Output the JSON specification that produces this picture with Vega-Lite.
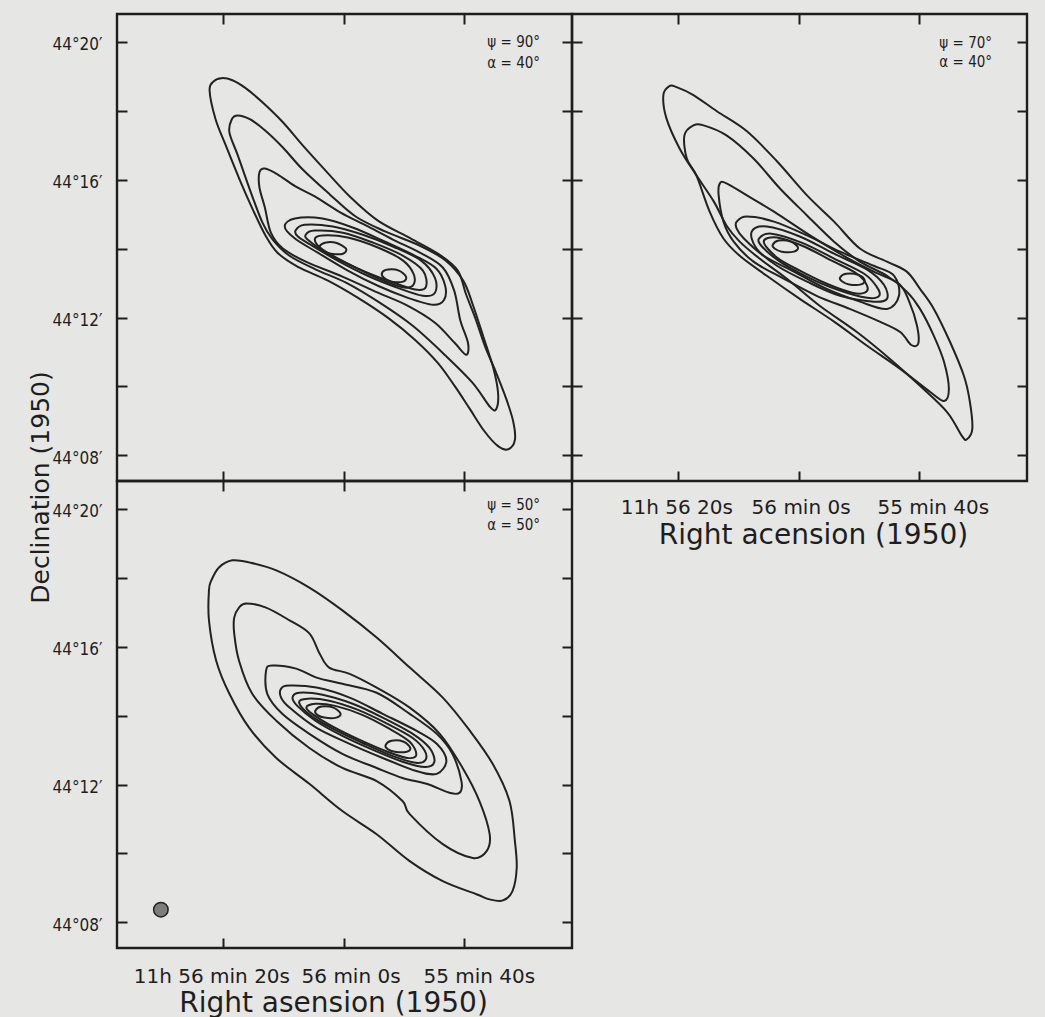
{
  "$schema": "https://vega.github.io/schema/vega-lite/v6.json",
  "background": "#e6e6e4",
  "padding": {"left": 26, "top": 11, "right": 18, "bottom": 3},
  "columns": 2,
  "spacing": 0,
  "bounds": "flush",
  "config": {
    "view": {"stroke": "#1e1e1e", "strokeWidth": 2.4},
    "axis": {"domain": false, "grid": false, "tickSize": -10, "tickWidth": 2, "tickColor": "#1e1e1e", "labelColor": "#1e1e1e", "titleColor": "#1e1e1e", "labelOverlap": false, "labelFlush": false, "labelBound": false}
  },
  "datasets": {
    "TL": [
      {"c":1,"ra":82.3,"dec":18.59},{"c":1,"ra":81.6,"dec":18.85},{"c":1,"ra":80.3,"dec":18.94},{"c":1,"ra":78.5,"dec":18.88},{"c":1,"ra":76.3,"dec":18.65},{"c":1,"ra":73.5,"dec":18.24},{"c":1,"ra":70.1,"dec":17.66},{"c":1,"ra":66.8,"dec":16.99},{"c":1,"ra":63.0,"dec":16.26},{"c":1,"ra":58.8,"dec":15.48},{"c":1,"ra":54.3,"dec":14.81},{"c":1,"ra":48.8,"dec":14.29},{"c":1,"ra":44.0,"dec":13.82},{"c":1,"ra":41.0,"dec":13.36},{"c":1,"ra":39.6,"dec":12.66},{"c":1,"ra":38.1,"dec":11.99},{"c":1,"ra":36.5,"dec":11.18},{"c":1,"ra":34.6,"dec":10.39},{"c":1,"ra":33.0,"dec":9.67},{"c":1,"ra":31.8,"dec":9.0},{"c":1,"ra":31.5,"dec":8.45},{"c":1,"ra":32.6,"dec":8.18},{"c":1,"ra":34.3,"dec":8.27},{"c":1,"ra":36.6,"dec":8.71},{"c":1,"ra":39.0,"dec":9.35},{"c":1,"ra":41.5,"dec":10.01},{"c":1,"ra":44.3,"dec":10.68},{"c":1,"ra":48.1,"dec":11.35},{"c":1,"ra":52.6,"dec":11.99},{"c":1,"ra":57.6,"dec":12.57},{"c":1,"ra":62.6,"dec":13.07},{"c":1,"ra":67.6,"dec":13.47},{"c":1,"ra":71.0,"dec":13.88},{"c":1,"ra":73.0,"dec":14.38},{"c":1,"ra":75.1,"dec":15.13},{"c":1,"ra":77.3,"dec":16.0},{"c":1,"ra":79.6,"dec":16.99},{"c":1,"ra":81.3,"dec":17.75},
      {"c":2,"ra":78.6,"dec":17.75},{"c":2,"ra":77.6,"dec":17.86},{"c":2,"ra":75.6,"dec":17.75},{"c":2,"ra":73.1,"dec":17.43},{"c":2,"ra":70.1,"dec":16.93},{"c":2,"ra":66.8,"dec":16.29},{"c":2,"ra":62.3,"dec":15.57},{"c":2,"ra":58.0,"dec":14.93},{"c":2,"ra":53.0,"dec":14.49},{"c":2,"ra":47.3,"dec":14.08},{"c":2,"ra":43.0,"dec":13.65},{"c":2,"ra":40.1,"dec":13.07},{"c":2,"ra":38.5,"dec":12.37},{"c":2,"ra":36.8,"dec":11.47},{"c":2,"ra":35.1,"dec":10.54},{"c":2,"ra":34.3,"dec":9.81},{"c":2,"ra":34.6,"dec":9.35},{"c":2,"ra":35.6,"dec":9.40},{"c":2,"ra":38.5,"dec":10.10},{"c":2,"ra":43.0,"dec":10.89},{"c":2,"ra":48.5,"dec":11.76},{"c":2,"ra":54.0,"dec":12.43},{"c":2,"ra":59.6,"dec":13.01},{"c":2,"ra":64.6,"dec":13.39},{"c":2,"ra":69.0,"dec":13.79},{"c":2,"ra":71.8,"dec":14.26},{"c":2,"ra":73.5,"dec":14.75},{"c":2,"ra":75.6,"dec":15.71},{"c":2,"ra":77.6,"dec":16.70},{"c":2,"ra":79.0,"dec":17.37},
      {"c":3,"ra":74.0,"dec":16.21},{"c":3,"ra":73.1,"dec":16.32},{"c":3,"ra":71.0,"dec":16.15},{"c":3,"ra":68.0,"dec":15.80},{"c":3,"ra":64.8,"dec":15.51},{"c":3,"ra":60.5,"dec":15.04},{"c":3,"ra":56.3,"dec":14.67},{"c":3,"ra":51.8,"dec":14.26},{"c":3,"ra":47.3,"dec":13.88},{"c":3,"ra":43.5,"dec":13.45},{"c":3,"ra":41.6,"dec":12.78},{"c":3,"ra":40.6,"dec":11.93},{"c":3,"ra":39.3,"dec":11.26},{"c":3,"ra":39.6,"dec":10.92},{"c":3,"ra":41.5,"dec":11.26},{"c":3,"ra":44.8,"dec":11.85},{"c":3,"ra":49.3,"dec":12.34},{"c":3,"ra":54.3,"dec":12.72},{"c":3,"ra":60.1,"dec":13.18},{"c":3,"ra":66.3,"dec":13.62},{"c":3,"ra":70.1,"dec":14.0},{"c":3,"ra":72.1,"dec":14.46},{"c":3,"ra":73.1,"dec":15.19},{"c":3,"ra":74.0,"dec":15.77},
      {"c":4,"ra":69.8,"dec":14.64},{"c":4,"ra":68.1,"dec":14.87},{"c":4,"ra":63.5,"dec":14.87},{"c":4,"ra":58.5,"dec":14.61},{"c":4,"ra":53.1,"dec":14.20},{"c":4,"ra":48.1,"dec":13.79},{"c":4,"ra":44.6,"dec":13.42},{"c":4,"ra":43.1,"dec":12.92},{"c":4,"ra":43.3,"dec":12.51},{"c":4,"ra":45.1,"dec":12.37},{"c":4,"ra":49.3,"dec":12.57},{"c":4,"ra":54.3,"dec":12.92},{"c":4,"ra":59.3,"dec":13.36},{"c":4,"ra":64.3,"dec":13.88},{"c":4,"ra":68.1,"dec":14.29},
      {"c":5,"ra":68.0,"dec":14.52},{"c":5,"ra":66.5,"dec":14.69},{"c":5,"ra":61.8,"dec":14.64},{"c":5,"ra":56.8,"dec":14.40},{"c":5,"ra":51.8,"dec":14.06},{"c":5,"ra":47.1,"dec":13.65},{"c":5,"ra":44.8,"dec":13.15},{"c":5,"ra":44.8,"dec":12.72},{"c":5,"ra":46.8,"dec":12.63},{"c":5,"ra":51.0,"dec":12.86},{"c":5,"ra":56.0,"dec":13.21},{"c":5,"ra":61.0,"dec":13.65},{"c":5,"ra":65.5,"dec":14.11},{"c":5,"ra":67.6,"dec":14.35},
      {"c":6,"ra":66.3,"dec":14.40},{"c":6,"ra":64.8,"dec":14.52},{"c":6,"ra":60.1,"dec":14.46},{"c":6,"ra":55.1,"dec":14.17},{"c":6,"ra":50.1,"dec":13.79},{"c":6,"ra":46.8,"dec":13.36},{"c":6,"ra":46.3,"dec":12.89},{"c":6,"ra":48.1,"dec":12.81},{"c":6,"ra":52.6,"dec":13.07},{"c":6,"ra":57.6,"dec":13.42},{"c":6,"ra":62.6,"dec":13.85},{"c":6,"ra":65.8,"dec":14.23},
      {"c":7,"ra":64.8,"dec":14.26},{"c":7,"ra":63.5,"dec":14.38},{"c":7,"ra":59.3,"dec":14.32},{"c":7,"ra":54.3,"dec":14.03},{"c":7,"ra":50.1,"dec":13.65},{"c":7,"ra":48.3,"dec":13.24},{"c":7,"ra":48.5,"dec":12.92},{"c":7,"ra":50.5,"dec":12.89},{"c":7,"ra":54.8,"dec":13.18},{"c":7,"ra":59.3,"dec":13.56},{"c":7,"ra":63.5,"dec":13.97},
      {"c":8,"ra":64.0,"dec":14.06},{"c":8,"ra":63.1,"dec":14.17},{"c":8,"ra":61.3,"dec":14.17},{"c":8,"ra":59.6,"dec":14.0},{"c":8,"ra":60.1,"dec":13.85},{"c":8,"ra":62.1,"dec":13.85},{"c":8,"ra":63.6,"dec":13.94},
      {"c":9,"ra":53.6,"dec":13.30},{"c":9,"ra":52.6,"dec":13.39},{"c":9,"ra":50.8,"dec":13.36},{"c":9,"ra":49.6,"dec":13.18},{"c":9,"ra":50.1,"dec":13.04},{"c":9,"ra":52.0,"dec":13.04},{"c":9,"ra":53.3,"dec":13.15}
    ],
    "TR": [
      {"c":1,"ra":82.5,"dec":18.45},{"c":1,"ra":81.5,"dec":18.71},{"c":1,"ra":80.3,"dec":18.68},{"c":1,"ra":77.5,"dec":18.45},{"c":1,"ra":73.6,"dec":17.98},{"c":1,"ra":68.6,"dec":17.40},{"c":1,"ra":63.6,"dec":16.53},{"c":1,"ra":58.6,"dec":15.54},{"c":1,"ra":54.1,"dec":14.78},{"c":1,"ra":49.8,"dec":14.0},{"c":1,"ra":45.3,"dec":13.62},{"c":1,"ra":42.0,"dec":13.33},{"c":1,"ra":39.8,"dec":12.83},{"c":1,"ra":37.5,"dec":12.25},{"c":1,"ra":34.8,"dec":11.29},{"c":1,"ra":32.5,"dec":10.31},{"c":1,"ra":31.5,"dec":9.55},{"c":1,"ra":31.1,"dec":8.77},{"c":1,"ra":32.0,"dec":8.47},{"c":1,"ra":32.8,"dec":8.56},{"c":1,"ra":35.3,"dec":9.26},{"c":1,"ra":39.8,"dec":10.02},{"c":1,"ra":44.8,"dec":10.80},{"c":1,"ra":50.3,"dec":11.58},{"c":1,"ra":56.5,"dec":12.34},{"c":1,"ra":62.0,"dec":13.13},{"c":1,"ra":66.5,"dec":13.71},{"c":1,"ra":69.8,"dec":14.20},{"c":1,"ra":72.0,"dec":14.67},{"c":1,"ra":74.1,"dec":15.36},{"c":1,"ra":77.0,"dec":16.12},{"c":1,"ra":79.8,"dec":16.90},{"c":1,"ra":82.0,"dec":17.78},
      {"c":2,"ra":79.0,"dec":17.28},{"c":2,"ra":77.5,"dec":17.57},{"c":2,"ra":75.8,"dec":17.57},{"c":2,"ra":72.0,"dec":17.28},{"c":2,"ra":67.5,"dec":16.61},{"c":2,"ra":63.1,"dec":15.74},{"c":2,"ra":58.6,"dec":14.96},{"c":2,"ra":54.1,"dec":14.20},{"c":2,"ra":49.8,"dec":13.62},{"c":2,"ra":45.3,"dec":13.21},{"c":2,"ra":42.0,"dec":12.75},{"c":2,"ra":39.8,"dec":12.25},{"c":2,"ra":37.5,"dec":11.47},{"c":2,"ra":35.8,"dec":10.71},{"c":2,"ra":35.0,"dec":9.93},{"c":2,"ra":35.8,"dec":9.58},{"c":2,"ra":38.1,"dec":9.84},{"c":2,"ra":43.1,"dec":10.51},{"c":2,"ra":48.6,"dec":11.18},{"c":2,"ra":54.1,"dec":11.88},{"c":2,"ra":59.8,"dec":12.54},{"c":2,"ra":65.3,"dec":13.21},{"c":2,"ra":69.8,"dec":13.79},{"c":2,"ra":72.5,"dec":14.29},{"c":2,"ra":74.8,"dec":15.07},{"c":2,"ra":77.0,"dec":16.12},{"c":2,"ra":78.6,"dec":16.61},
      {"c":3,"ra":73.3,"dec":15.54},{"c":3,"ra":73.1,"dec":15.89},{"c":3,"ra":72.0,"dec":15.89},{"c":3,"ra":68.6,"dec":15.54},{"c":3,"ra":64.1,"dec":15.07},{"c":3,"ra":58.1,"dec":14.38},{"c":3,"ra":52.5,"dec":13.79},{"c":3,"ra":47.5,"dec":13.33},{"c":3,"ra":43.3,"dec":12.98},{"c":3,"ra":41.6,"dec":12.46},{"c":3,"ra":40.3,"dec":11.76},{"c":3,"ra":40.1,"dec":11.24},{"c":3,"ra":41.3,"dec":11.21},{"c":3,"ra":43.1,"dec":11.58},{"c":3,"ra":46.5,"dec":11.88},{"c":3,"ra":51.5,"dec":12.25},{"c":3,"ra":57.0,"dec":12.63},{"c":3,"ra":62.5,"dec":13.13},{"c":3,"ra":67.5,"dec":13.62},{"c":3,"ra":70.8,"dec":14.20},{"c":3,"ra":72.5,"dec":14.78},
      {"c":4,"ra":70.3,"dec":14.78},{"c":4,"ra":68.6,"dec":14.93},{"c":4,"ra":64.1,"dec":14.78},{"c":4,"ra":58.6,"dec":14.38},{"c":4,"ra":53.1,"dec":13.91},{"c":4,"ra":47.5,"dec":13.50},{"c":4,"ra":44.1,"dec":13.21},{"c":4,"ra":43.3,"dec":12.63},{"c":4,"ra":45.3,"dec":12.25},{"c":4,"ra":49.8,"dec":12.46},{"c":4,"ra":55.3,"dec":12.83},{"c":4,"ra":60.8,"dec":13.33},{"c":4,"ra":65.8,"dec":13.79},{"c":4,"ra":69.1,"dec":14.29},{"c":4,"ra":70.3,"dec":14.58},
      {"c":5,"ra":67.8,"dec":14.49},{"c":5,"ra":65.3,"dec":14.64},{"c":5,"ra":59.8,"dec":14.35},{"c":5,"ra":54.1,"dec":13.85},{"c":5,"ra":48.6,"dec":13.39},{"c":5,"ra":45.8,"dec":12.95},{"c":5,"ra":45.3,"dec":12.54},{"c":5,"ra":47.5,"dec":12.46},{"c":5,"ra":53.1,"dec":12.63},{"c":5,"ra":58.6,"dec":13.04},{"c":5,"ra":63.6,"dec":13.50},{"c":5,"ra":67.0,"dec":14.0},
      {"c":6,"ra":66.6,"dec":14.29},{"c":6,"ra":64.5,"dec":14.43},{"c":6,"ra":59.5,"dec":14.17},{"c":6,"ra":54.1,"dec":13.71},{"c":6,"ra":49.1,"dec":13.27},{"c":6,"ra":47.0,"dec":12.89},{"c":6,"ra":46.6,"dec":12.63},{"c":6,"ra":48.6,"dec":12.57},{"c":6,"ra":53.6,"dec":12.81},{"c":6,"ra":58.6,"dec":13.18},{"c":6,"ra":63.1,"dec":13.62},{"c":6,"ra":66.1,"dec":14.06},
      {"c":7,"ra":65.8,"dec":14.20},{"c":7,"ra":63.6,"dec":14.32},{"c":7,"ra":59.1,"dec":14.06},{"c":7,"ra":54.5,"dec":13.65},{"c":7,"ra":50.3,"dec":13.27},{"c":7,"ra":48.6,"dec":12.92},{"c":7,"ra":49.0,"dec":12.72},{"c":7,"ra":51.1,"dec":12.72},{"c":7,"ra":55.3,"dec":12.98},{"c":7,"ra":59.8,"dec":13.36},{"c":7,"ra":63.6,"dec":13.74},
      {"c":8,"ra":64.3,"dec":14.11},{"c":8,"ra":63.3,"dec":14.23},{"c":8,"ra":61.3,"dec":14.20},{"c":8,"ra":60.1,"dec":14.03},{"c":8,"ra":60.8,"dec":13.91},{"c":8,"ra":62.8,"dec":13.91},{"c":8,"ra":64.0,"dec":14.0},
      {"c":9,"ra":53.1,"dec":13.16},{"c":9,"ra":52.1,"dec":13.27},{"c":9,"ra":50.1,"dec":13.24},{"c":9,"ra":49.0,"dec":13.08},{"c":9,"ra":49.6,"dec":12.96},{"c":9,"ra":51.6,"dec":12.96},{"c":9,"ra":52.8,"dec":13.05}
    ],
    "BL": [
      {"c":1,"ra":82.4,"dec":17.63},{"c":1,"ra":82.0,"dec":17.92},{"c":1,"ra":80.7,"dec":18.30},{"c":1,"ra":78.5,"dec":18.50},{"c":1,"ra":75.7,"dec":18.44},{"c":1,"ra":71.2,"dec":18.21},{"c":1,"ra":65.7,"dec":17.71},{"c":1,"ra":60.2,"dec":17.05},{"c":1,"ra":54.5,"dec":16.26},{"c":1,"ra":49.0,"dec":15.39},{"c":1,"ra":43.5,"dec":14.52},{"c":1,"ra":39.0,"dec":13.56},{"c":1,"ra":35.2,"dec":12.60},{"c":1,"ra":32.4,"dec":11.52},{"c":1,"ra":31.5,"dec":10.36},{"c":1,"ra":31.2,"dec":9.58},{"c":1,"ra":31.9,"dec":8.91},{"c":1,"ra":33.5,"dec":8.64},{"c":1,"ra":35.7,"dec":8.67},{"c":1,"ra":37.9,"dec":8.82},{"c":1,"ra":43.5,"dec":9.20},{"c":1,"ra":49.0,"dec":9.78},{"c":1,"ra":54.5,"dec":10.56},{"c":1,"ra":60.2,"dec":11.23},{"c":1,"ra":65.7,"dec":12.02},{"c":1,"ra":71.2,"dec":12.77},{"c":1,"ra":75.7,"dec":13.64},{"c":1,"ra":79.0,"dec":14.63},{"c":1,"ra":81.2,"dec":15.59},{"c":1,"ra":82.4,"dec":16.76},
      {"c":2,"ra":78.2,"dec":16.84},{"c":2,"ra":77.4,"dec":17.13},{"c":2,"ra":76.2,"dec":17.25},{"c":2,"ra":72.9,"dec":17.13},{"c":2,"ra":69.0,"dec":16.76},{"c":2,"ra":65.7,"dec":16.38},{"c":2,"ra":64.0,"dec":15.80},{"c":2,"ra":62.4,"dec":15.39},{"c":2,"ra":59.0,"dec":15.21},{"c":2,"ra":54.5,"dec":14.81},{"c":2,"ra":49.0,"dec":14.23},{"c":2,"ra":44.0,"dec":13.47},{"c":2,"ra":40.2,"dec":12.48},{"c":2,"ra":37.4,"dec":11.52},{"c":2,"ra":35.7,"dec":10.56},{"c":2,"ra":36.2,"dec":10.07},{"c":2,"ra":38.5,"dec":9.87},{"c":2,"ra":43.5,"dec":10.27},{"c":2,"ra":49.0,"dec":11.14},{"c":2,"ra":50.2,"dec":11.52},{"c":2,"ra":54.5,"dec":12.10},{"c":2,"ra":60.2,"dec":12.48},{"c":2,"ra":65.7,"dec":13.06},{"c":2,"ra":71.2,"dec":13.85},{"c":2,"ra":75.2,"dec":14.63},{"c":2,"ra":77.4,"dec":15.59},{"c":2,"ra":78.2,"dec":16.38},
      {"c":3,"ra":72.9,"dec":15.30},{"c":3,"ra":71.9,"dec":15.45},{"c":3,"ra":67.9,"dec":15.36},{"c":3,"ra":64.5,"dec":15.10},{"c":3,"ra":60.2,"dec":14.92},{"c":3,"ra":54.5,"dec":14.66},{"c":3,"ra":49.0,"dec":14.05},{"c":3,"ra":44.5,"dec":13.47},{"c":3,"ra":41.9,"dec":12.89},{"c":3,"ra":40.4,"dec":12.10},{"c":3,"ra":40.7,"dec":11.76},{"c":3,"ra":42.4,"dec":11.76},{"c":3,"ra":46.2,"dec":12.02},{"c":3,"ra":50.2,"dec":12.19},{"c":3,"ra":54.5,"dec":12.48},{"c":3,"ra":60.2,"dec":12.89},{"c":3,"ra":65.7,"dec":13.47},{"c":3,"ra":70.2,"dec":14.05},{"c":3,"ra":72.7,"dec":14.63},
      {"c":4,"ra":70.4,"dec":14.78},{"c":4,"ra":69.0,"dec":14.87},{"c":4,"ra":64.5,"dec":14.81},{"c":4,"ra":59.0,"dec":14.52},{"c":4,"ra":53.5,"dec":14.05},{"c":4,"ra":47.9,"dec":13.56},{"c":4,"ra":44.5,"dec":13.18},{"c":4,"ra":42.9,"dec":12.69},{"c":4,"ra":44.5,"dec":12.31},{"c":4,"ra":47.9,"dec":12.39},{"c":4,"ra":53.5,"dec":12.77},{"c":4,"ra":59.0,"dec":13.18},{"c":4,"ra":64.5,"dec":13.64},{"c":4,"ra":69.0,"dec":14.23},{"c":4,"ra":70.4,"dec":14.52},
      {"c":5,"ra":68.5,"dec":14.52},{"c":5,"ra":67.4,"dec":14.66},{"c":5,"ra":63.5,"dec":14.60},{"c":5,"ra":58.5,"dec":14.34},{"c":5,"ra":53.5,"dec":13.94},{"c":5,"ra":48.5,"dec":13.47},{"c":5,"ra":45.7,"dec":13.06},{"c":5,"ra":44.9,"dec":12.66},{"c":5,"ra":46.4,"dec":12.51},{"c":5,"ra":50.2,"dec":12.66},{"c":5,"ra":55.2,"dec":13.01},{"c":5,"ra":60.2,"dec":13.41},{"c":5,"ra":64.7,"dec":13.85},{"c":5,"ra":67.7,"dec":14.28},
      {"c":6,"ra":67.4,"dec":14.37},{"c":6,"ra":66.0,"dec":14.49},{"c":6,"ra":62.4,"dec":14.43},{"c":6,"ra":57.7,"dec":14.17},{"c":6,"ra":52.7,"dec":13.76},{"c":6,"ra":48.5,"dec":13.35},{"c":6,"ra":46.5,"dec":12.98},{"c":6,"ra":46.4,"dec":12.71},{"c":6,"ra":48.0,"dec":12.63},{"c":6,"ra":51.9,"dec":12.83},{"c":6,"ra":56.9,"dec":13.21},{"c":6,"ra":61.5,"dec":13.59},{"c":6,"ra":65.4,"dec":13.99},
      {"c":7,"ra":66.2,"dec":14.23},{"c":7,"ra":64.7,"dec":14.34},{"c":7,"ra":61.4,"dec":14.28},{"c":7,"ra":56.9,"dec":14.02},{"c":7,"ra":52.4,"dec":13.62},{"c":7,"ra":49.0,"dec":13.24},{"c":7,"ra":47.9,"dec":12.86},{"c":7,"ra":49.4,"dec":12.77},{"c":7,"ra":52.7,"dec":12.95},{"c":7,"ra":57.4,"dec":13.30},{"c":7,"ra":61.7,"dec":13.67},{"c":7,"ra":65.0,"dec":14.02},
      {"c":8,"ra":64.7,"dec":14.14},{"c":8,"ra":63.7,"dec":14.26},{"c":8,"ra":61.7,"dec":14.23},{"c":8,"ra":60.5,"dec":14.05},{"c":8,"ra":61.2,"dec":13.94},{"c":8,"ra":63.2,"dec":13.94},{"c":8,"ra":64.4,"dec":14.02},
      {"c":9,"ra":53.0,"dec":13.15},{"c":9,"ra":52.0,"dec":13.27},{"c":9,"ra":50.0,"dec":13.24},{"c":9,"ra":48.9,"dec":13.06},{"c":9,"ra":49.5,"dec":12.95},{"c":9,"ra":51.5,"dec":12.95},{"c":9,"ra":52.7,"dec":13.03}
    ]
  },
  "concat": [
    {
      "width": 455, "height": 467,
      "resolve": {"axis": {"x": "independent", "y": "independent"}},
      "layer": [
        {
          "data": {"name": "TL"},
          "mark": {"type": "line", "interpolate": "cardinal-closed", "stroke": "#222222", "strokeWidth": 2},
          "encoding": {
            "x": {"field": "ra", "type": "quantitative", "scale": {"domain": [97.7, 22], "nice": false, "zero": false},
                  "axis": {"orient": "bottom", "values": [80, 60, 40], "labels": false, "title": null}},
            "y": {"field": "dec", "type": "quantitative", "scale": {"domain": [7.26, 20.8], "nice": false, "zero": false},
                  "axis": {"orient": "left", "values": [8, 10, 12, 14, 16, 18, 20],
                           "labelExpr": "datum.value % 4 == 0 ? '44°' + (datum.value < 10 ? '0' : '') + datum.value + '′' : ''",
                           "labelFont": "DejaVu Sans Condensed", "labelFontSize": 17, "labelPadding": 25, "labelOffset": 3, "labelBaseline": "middle", "labelAlign": "right",
                           "title": "Declination (1950)", "titleFont": "DejaVu Sans", "titleFontSize": 25, "titleFontWeight": "normal",
                           "titleAngle": 270, "titleX": -69, "titleY": 473, "titleAlign": "center", "titleBaseline": "alphabetic"}},
            "detail": {"field": "c", "type": "nominal"},
            "order": {"value": null}
          }
        },
        {
          "data": {"values": [{"ra": 31.7, "dec": 19.98, "t": "ψ = 90°"}, {"ra": 31.7, "dec": 19.38, "t": "α = 40°"}]},
          "mark": {"type": "text", "font": "DejaVu Sans Condensed", "fontSize": 15, "color": "#1e1e1e"},
          "encoding": {
            "x": {"field": "ra", "type": "quantitative", "scale": {"domain": [97.7, 22], "nice": false, "zero": false},
                  "axis": {"orient": "top", "values": [80, 60, 40], "labels": false, "title": null}},
            "y": {"field": "dec", "type": "quantitative", "scale": {"domain": [7.26, 20.8], "nice": false, "zero": false},
                  "axis": {"orient": "right", "values": [8, 10, 12, 14, 16, 18, 20], "labels": false, "title": null}},
            "text": {"field": "t"}
          }
        }
      ]
    },
    {
      "width": 455, "height": 467,
      "resolve": {"axis": {"x": "independent", "y": "independent"}},
      "layer": [
        {
          "data": {"name": "TR"},
          "mark": {"type": "line", "interpolate": "cardinal-closed", "stroke": "#222222", "strokeWidth": 2},
          "encoding": {
            "x": {"field": "ra", "type": "quantitative", "scale": {"domain": [97.7, 22], "nice": false, "zero": false},
                  "axis": {"orient": "bottom", "values": [80, 60, 40],
                           "labelExpr": "datum.value == 80 ? '11h 56 20s' : datum.value == 60 ? '56 min 0s' : '55 min 40s'",
                           "labelFont": "DejaVu Sans", "labelFontSize": 20, "labelPadding": 26, "labelBaseline": "top",
                           "labelOffset": {"condition": [{"test": "datum.value == 80", "value": -2}, {"test": "datum.value == 40", "value": 14}], "value": 2},
                           "title": "Right acension (1950)", "titleFont": "DejaVu Sans", "titleFontSize": 28, "titleFontWeight": "normal",
                           "titleX": 241, "titleY": 62, "titleAlign": "center", "titleBaseline": "alphabetic"}},
            "y": {"field": "dec", "type": "quantitative", "scale": {"domain": [7.26, 20.8], "nice": false, "zero": false},
                  "axis": {"orient": "left", "values": [8, 10, 12, 14, 16, 18, 20], "labels": false, "title": null}},
            "detail": {"field": "c", "type": "nominal"},
            "order": {"value": null}
          }
        },
        {
          "data": {"values": [{"ra": 32.2, "dec": 19.96, "t": "ψ = 70°"}, {"ra": 32.2, "dec": 19.40, "t": "α = 40°"}]},
          "mark": {"type": "text", "font": "DejaVu Sans Condensed", "fontSize": 15, "color": "#1e1e1e"},
          "encoding": {
            "x": {"field": "ra", "type": "quantitative", "scale": {"domain": [97.7, 22], "nice": false, "zero": false},
                  "axis": {"orient": "top", "values": [80, 60, 40], "labels": false, "title": null}},
            "y": {"field": "dec", "type": "quantitative", "scale": {"domain": [7.26, 20.8], "nice": false, "zero": false},
                  "axis": {"orient": "right", "values": [8, 10, 12, 14, 16, 18, 20], "labels": false, "title": null}},
            "text": {"field": "t"}
          }
        }
      ]
    },
    {
      "width": 455, "height": 467,
      "resolve": {"axis": {"x": "independent", "y": "independent"}},
      "layer": [
        {
          "data": {"name": "BL"},
          "mark": {"type": "line", "interpolate": "cardinal-closed", "stroke": "#222222", "strokeWidth": 2},
          "encoding": {
            "x": {"field": "ra", "type": "quantitative", "scale": {"domain": [97.7, 22], "nice": false, "zero": false},
                  "axis": {"orient": "bottom", "values": [80, 60, 40],
                           "labelExpr": "datum.value == 80 ? '11h 56 min 20s' : datum.value == 60 ? '56 min 0s' : '55 min 40s'",
                           "labelFont": "DejaVu Sans", "labelFontSize": 20, "labelPadding": 28, "labelBaseline": "top",
                           "labelOffset": {"condition": [{"test": "datum.value == 80", "value": -12}, {"test": "datum.value == 40", "value": 15}], "value": 7},
                           "title": "Right asension (1950)", "titleFont": "DejaVu Sans", "titleFontSize": 28, "titleFontWeight": "normal",
                           "titleX": 216, "titleY": 63, "titleAlign": "center", "titleBaseline": "alphabetic"}},
            "y": {"field": "dec", "type": "quantitative", "scale": {"domain": [7.26, 20.8], "nice": false, "zero": false},
                  "axis": {"orient": "left", "values": [8, 10, 12, 14, 16, 18, 20],
                           "labelExpr": "datum.value % 4 == 0 ? '44°' + (datum.value < 10 ? '0' : '') + datum.value + '′' : ''",
                           "labelFont": "DejaVu Sans Condensed", "labelFontSize": 17, "labelPadding": 25, "labelOffset": 3, "labelBaseline": "middle", "labelAlign": "right",
                           "title": null}},
            "detail": {"field": "c", "type": "nominal"},
            "order": {"value": null}
          }
        },
        {
          "data": {"values": [{"ra": 31.7, "dec": 20.10, "t": "ψ = 50°"}, {"ra": 31.7, "dec": 19.52, "t": "α = 50°"}]},
          "mark": {"type": "text", "font": "DejaVu Sans Condensed", "fontSize": 15, "color": "#1e1e1e"},
          "encoding": {
            "x": {"field": "ra", "type": "quantitative", "scale": {"domain": [97.7, 22], "nice": false, "zero": false},
                  "axis": {"orient": "top", "values": [80, 60, 40], "labels": false, "title": null}},
            "y": {"field": "dec", "type": "quantitative", "scale": {"domain": [7.26, 20.8], "nice": false, "zero": false},
                  "axis": {"orient": "right", "values": [8, 10, 12, 14, 16, 18, 20], "labels": false, "title": null}},
            "text": {"field": "t"}
          }
        },
        {
          "data": {"values": [{"ra": 90.4, "dec": 8.37}]},
          "mark": {"type": "point", "shape": "circle", "filled": true, "fill": "#7d7d7d", "stroke": "#222222", "strokeWidth": 1.5, "size": 210, "opacity": 1},
          "encoding": {
            "x": {"field": "ra", "type": "quantitative", "scale": {"domain": [97.7, 22], "nice": false, "zero": false}, "axis": null},
            "y": {"field": "dec", "type": "quantitative", "scale": {"domain": [7.26, 20.8], "nice": false, "zero": false}, "axis": null}
          }
        }
      ]
    }
  ]
}
